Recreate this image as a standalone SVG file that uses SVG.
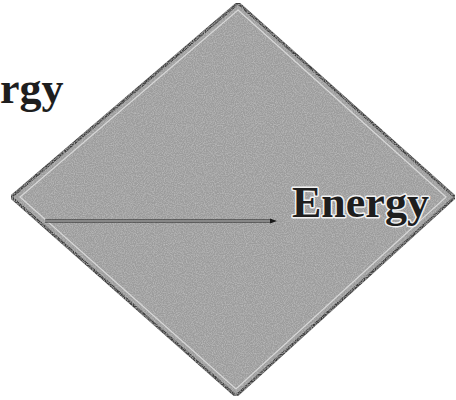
<svg xmlns="http://www.w3.org/2000/svg" width="456" height="400" viewBox="0 0 456 400">
  <defs>
    <filter id="grain" x="0" y="0" width="100%" height="100%">
      <feTurbulence type="fractalNoise" baseFrequency="0.9" numOctaves="2" seed="3" result="n"/>
      <feColorMatrix in="n" type="matrix" values="0 0 0 0 0.55  0 0 0 0 0.55  0 0 0 0 0.55  0 0 0 1.4 -0.5" result="g"/>
      <feComposite in="g" in2="SourceGraphic" operator="in" result="gc"/>
      <feMerge><feMergeNode in="SourceGraphic"/><feMergeNode in="gc"/></feMerge>
    </filter>
  </defs>
  <style>
    .lbl { font-family: "Liberation Serif", "Times New Roman", serif; font-weight: bold; font-size: 44px; fill: #1e1e1e; }
    .halo { stroke: #f2f2f2; stroke-width: 3; paint-order: stroke; stroke-linejoin: round; }
  </style>
  <rect width="456" height="400" fill="#ffffff"/>
  <g id="energy-left">
    <text class="lbl" x="0" y="103">rgy</text>
  </g>
  <g id="diamond">
    <polygon points="238,3 455,197 236,396 11,197" fill="#9c9c9c" stroke="#3c3c3c" stroke-width="3" filter="url(#grain)"/>
    <polygon points="238,10 446,197 236,389 20,197" fill="none" stroke="#d8d8d8" stroke-width="1.2"/>
  </g>
  <g id="connectors">
    <line x1="45" y1="221" x2="272" y2="221" stroke="#1a1a1a" stroke-width="3"/>
    <line x1="45" y1="221" x2="272" y2="221" stroke="#f4f4f4" stroke-width="1"/>
    <polygon points="270,218.5 277,221 270,223.5" fill="#1a1a1a"/>
  </g>
  <g id="energy-right">
    <text class="lbl halo" x="292" y="217">Energy</text>
  </g>
</svg>
